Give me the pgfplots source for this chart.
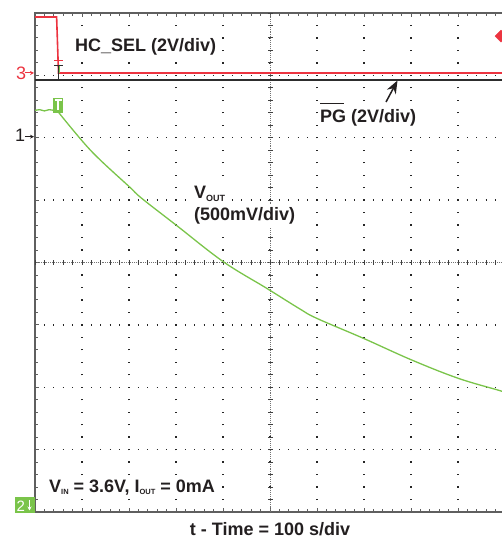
\documentclass[border=0pt]{standalone}
\usepackage{pgfplots}
\pgfplotsset{compat=1.18}
\usetikzlibrary{arrows.meta}
\usepackage{fontspec}
\setmainfont{Liberation Sans}
\definecolor{trgreen}{RGB}{122,196,74}
\definecolor{trred}{RGB}{236,52,64}
\definecolor{trblack}{RGB}{45,45,45}
\definecolor{framec}{RGB}{95,95,95}
\definecolor{txt}{RGB}{35,31,32}
\begin{document}
\begin{tikzpicture}[font=\fontsize{18}{20}\selectfont\bfseries,
  lab/.style={txt, anchor=base west, inner xsep=1pt, inner ysep=2.5pt, fill=white}]
\begin{axis}[
  at={(0pt,0pt)}, anchor=south west,
  scale only axis, width=470pt, height=499pt,
  xmin=0, xmax=1000, ymin=0, ymax=8,
  xtick={0,100,...,1000}, ytick={0,1,...,8},
  minor x tick num=4, minor y tick num=4,
  xticklabels={}, yticklabels={},
  ytick pos=left,
  tick align=inside,
  major tick length=4pt, minor tick length=3pt,
  tick style={framec, line width=0.9pt},
  axis line style={framec, line width=1.6pt},
  grid=major,
  major x grid style={black!85, line width=1.3pt, dash pattern=on 1.3pt off 11.175pt, dash phase=0.65pt},
  major y grid style={black!85, line width=1.3pt, dash pattern=on 1.3pt off 8.1pt, dash phase=0.65pt},
]
% centre cross lines
\draw[black!55, line width=0.7pt, dash pattern=on 0.7pt off 1.2pt] (axis cs:500,0) -- (axis cs:500,8);
\draw[black!75, line width=5pt, dash pattern=on 0.9pt off 11.575pt, dash phase=0.45pt] (axis cs:500,0) -- (axis cs:500,8);
\draw[black!55, line width=0.7pt, dash pattern=on 0.7pt off 1.2pt] (axis cs:0,4) -- (axis cs:1000,4);
\draw[black!75, line width=5pt, dash pattern=on 0.9pt off 8.5pt, dash phase=0.45pt] (axis cs:0,4) -- (axis cs:1000,4);
% PG (black)
\addplot[trblack, line width=1.3pt] coordinates {(0,6.926) (1000,6.926)};
% HC_SEL (red)
\addplot[trred, line width=1.6pt] coordinates {(0,7.936) (46,7.936) (50,7.038) (1000,7.038)};
% VOUT (green)
\addplot[trgreen, line width=1.3pt] coordinates {
(0,6.44) (10,6.45) (20,6.43) (30,6.45) (40,6.44) (49,6.44)};
\addplot[trgreen, line width=1.3pt, smooth, tension=0.6] coordinates {
(49,6.44) (53,6.38) (106,5.90) (142,5.62) (200.6,5.215) (227,5.029) (300,4.601) (400.6,4.013)
(493,3.586) (563.8,3.254) (599.4,3.105) (698.5,2.785) (801.5,2.437) (900.6,2.143) (989.4,1.945) (1000,1.91)};
% trigger level marker (red)
\addplot[trred, fill=trred] coordinates {(978.7,7.63) (991.5,7.726) (1004,7.63) (991.5,7.534) (978.7,7.63)};
\end{axis}
% trigger markers
\draw[trred, line width=1pt] (19pt,451pt) -- (27.7pt,451pt);
\draw[trblack, line width=1pt] (19pt,446pt) -- (27.7pt,446pt);
\draw[trblack, line width=1.2pt] (23.3pt,446pt) -- (23.3pt,432pt);
\draw[trgreen, line width=1.2pt] (24.3pt,446pt) -- (24.3pt,439pt);
% T box
\fill[trgreen] (17.7pt,399.3pt) rectangle (28.3pt,414.3pt);
\draw[white, line width=1.6pt] (19.5pt,411.8pt) -- (26.5pt,411.8pt);
\draw[white, line width=1.8pt] (23pt,411.8pt) -- (23pt,401.5pt);
% channel markers
\node[trred, anchor=base west, inner sep=0, font=\fontsize{18}{20}\selectfont] at (-19pt,432pt) {3};
\draw[trred, line width=1pt, -{Stealth[length=4pt,width=4pt]}] (-10pt,439pt) -- (-1pt,439pt);
\node[txt, anchor=base west, inner sep=0, font=\fontsize{18}{20}\selectfont] at (-20pt,370.3pt) {1};
\draw[txt, line width=1pt, -{Stealth[length=4pt,width=4pt]}] (-10pt,375.3pt) -- (-1pt,375.3pt);
\fill[trgreen] (-20pt,-1pt) rectangle (0pt,15pt);
\node[white, anchor=base west, inner sep=0, font=\fontsize{15}{16}\selectfont] at (-18.5pt,0.5pt) {2};
\draw[white, line width=1pt, -{Stealth[length=4pt,width=4pt]}] (-5.5pt,12pt) -- (-5.5pt,1.5pt);
% labels
\node[lab] at (39pt,460pt) {HC\_SEL (2V/div)};
\node[lab] at (284pt,389pt) {PG (2V/div)};
\draw[txt, line width=1.3pt] (285pt,408.7pt) -- (309pt,408.7pt);
\draw[txt, line width=1.5pt, -{Stealth[length=13pt,width=10pt]}] (351pt,410pt) -- (362.5pt,431.5pt);
\node[lab] at (158pt,313pt) {V\raisebox{-2.5pt}{\fontsize{9}{9}\selectfont OUT}};
\node[lab] at (158pt,291pt) {(500mV/div)};
\node[lab] at (13pt,19pt) {V\raisebox{-2pt}{\fontsize{7.5}{7.5}\selectfont IN} = 3.6V, I\raisebox{-2pt}{\fontsize{7.5}{7.5}\selectfont OUT} = 0mA};
\node[txt, anchor=base, inner sep=0] at (235pt,-23.7pt) {t - Time = 100 s/div};
\pgfresetboundingbox
\useasboundingbox (-35pt,-28pt) rectangle (466pt,512pt);
\end{tikzpicture}
\end{document}
